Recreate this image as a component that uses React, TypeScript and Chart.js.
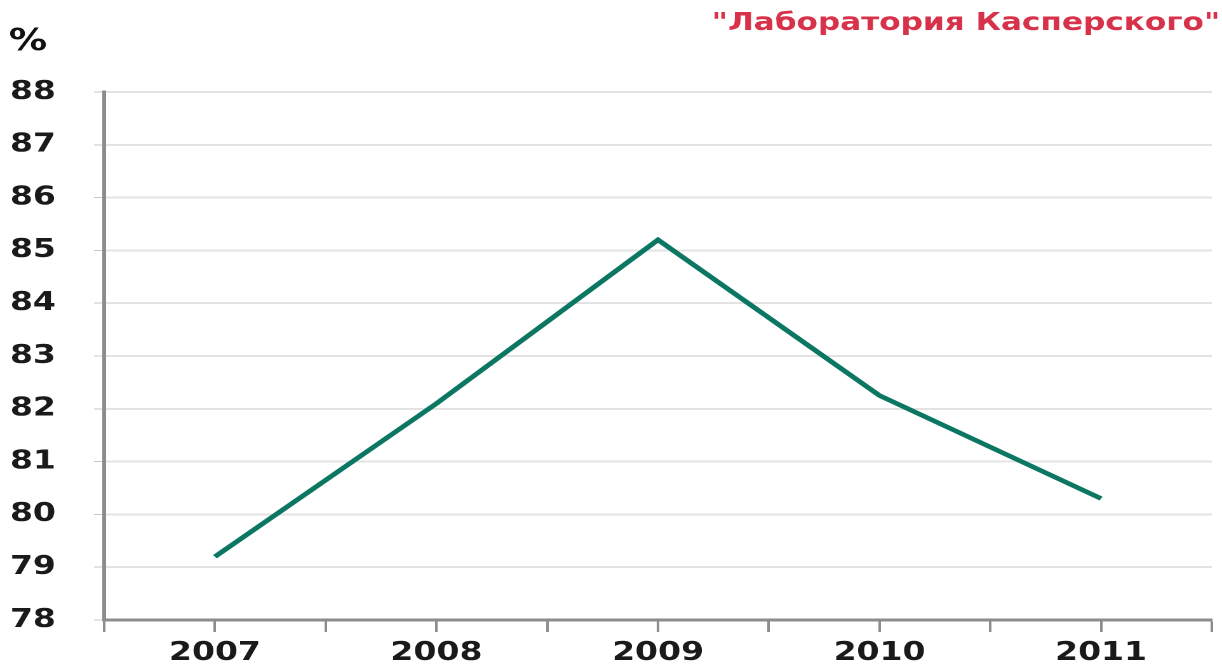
import React, { useEffect, useRef } from "react";
import { Chart, registerables } from "chart.js";

Chart.register(...registerables);

const categories = ["2007", "2008", "2009", "2010", "2011"];
const shareValues = [79.2, 82.1, 85.2, 82.25, 80.3];
const yMin = 78;
const yMax = 88;
const yStep = 1;
const titleText = '"Лаборатория Касперского"';
const unitText = "%";

// The reference image is horizontally stretched; draw on a narrower canvas and stretch it.
const VIEW_W = 1222;
const VIEW_H = 665;
const STRETCH = 1.27;

export default function App() {
  const ref = useRef<HTMLCanvasElement | null>(null);

  useEffect(() => {
    document.body.style.margin = "0";
    const canvas = ref.current;
    if (!canvas) return;
    canvas.width = Math.round(VIEW_W / STRETCH);
    canvas.height = VIEW_H;

    const chart = new Chart(canvas, {
      type: "line",
      data: {
        datasets: [
          {
            data: shareValues.map((v, i) => ({ x: i, y: v })),
            borderColor: "#0b7762",
            borderWidth: 4.5,
            pointRadius: 0,
            tension: 0,
            fill: false,
          },
        ],
      },
      options: {
        animation: false,
        responsive: false,
        devicePixelRatio: 2,
        layout: { padding: { left: 7, right: 1.5, top: 0, bottom: 0 } },
        plugins: {
          legend: { display: false },
          tooltip: { enabled: false },
          title: {
            display: true,
            text: titleText,
            align: "end",
            color: "#d8324a",
            font: { family: "DejaVu Sans", size: 24.5, weight: "bold", lineHeight: 1.2 },
            padding: { top: 9, bottom: 0 },
          },
          subtitle: {
            display: true,
            text: unitText,
            align: "start",
            color: "#111111",
            font: { family: "DejaVu Sans", size: 30, weight: "bold", lineHeight: 1 },
            padding: { top: -11, bottom: 34.6 },
          },
        },
        scales: {
          x: {
            type: "linear",
            min: -0.5,
            max: categories.length - 0.5,
            afterBuildTicks: (scale: any) => {
              const t: { value: number }[] = [];
              for (let k = 0; k <= categories.length * 2; k++) t.push({ value: -0.5 + k * 0.5 });
              scale.ticks = t;
            },
            afterFit: (scale: any) => {
              scale.height = 45;
            },
            ticks: {
              autoSkip: false,
              maxRotation: 0,
              padding: 8,
              color: "#1a1a1a",
              font: { family: "DejaVu Sans", size: 26, weight: "bold", lineHeight: 1 },
              callback: (value: any) => (Number.isInteger(value) ? categories[value] ?? "" : ""),
            },
            grid: {
              drawOnChartArea: false,
              drawTicks: true,
              tickLength: 12,
              tickColor: "#8c8c8c",
              tickWidth: 2,
            },
            border: { color: "#8c8c8c", width: 3 },
          },
          y: {
            min: yMin,
            max: yMax,
            afterFit: (scale: any) => {
              scale.width = 75;
            },
            ticks: {
              stepSize: yStep,
              padding: 30,
              color: "#1a1a1a",
              font: { family: "DejaVu Sans", size: 26, weight: "bold", lineHeight: 1 },
            },
            grid: {
              color: "#e3e3e3",
              lineWidth: 2,
              tickLength: 8,
              tickColor: "#c8c8c8",
              tickWidth: 1,
            },
            border: { color: "#8c8c8c", width: 3 },
          },
        },
      },
    });
    return () => chart.destroy();
  }, []);

  return (
    <div style={{ width: VIEW_W, height: VIEW_H, background: "#ffffff" }}>
      <canvas ref={ref} style={{ width: VIEW_W + "px", height: VIEW_H + "px", display: "block" }} />
    </div>
  );
}
